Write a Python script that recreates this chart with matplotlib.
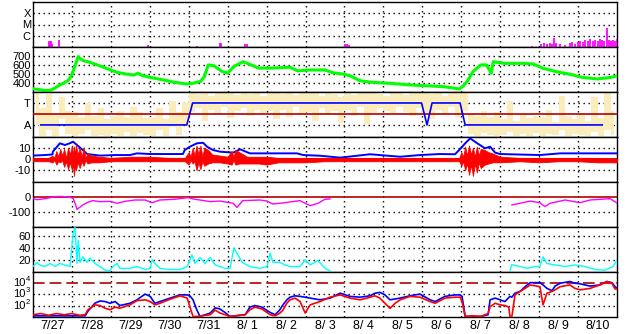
import numpy as np
import matplotlib
matplotlib.use('Agg')
import matplotlib.pyplot as plt
from matplotlib.transforms import blended_transform_factory

plt.rcParams['font.family'] = ['Liberation Sans', 'DejaVu Sans']

# time axis: days since 7/27 00:00
day_labels = ['7/27', '7/28', '7/29', '7/30', '7/31', '8/ 1', '8/ 2', '8/ 3',
              '8/ 4', '8/ 5', '8/ 6', '8/ 7', '8/ 8', '8/ 9', '8/10']

# X-ray flares (time, peak flux W/m2)
xray_t = [0.41, 0.44, 0.46, 0.49, 0.67, 2.95, 4.21, 4.80, 4.83, 5.45, 5.50, 8.01, 8.06, 8.12,
          12.82, 13.05, 13.13, 13.20, 13.28, 13.33, 13.38, 13.43, 13.54, 13.66, 13.79, 13.85,
          13.92, 14.00, 14.05, 14.13, 14.18, 14.26, 14.31, 14.38, 14.44, 14.51, 14.56, 14.62,
          14.67, 14.74, 14.80, 14.85, 14.90, 14.95, 14.99]
xray_f = [3.4e-7, 2.8e-7, 3.4e-7, 1.9e-7, 4.2e-7, 1.5e-7, 1.35e-7, 2.3e-7, 2.5e-7, 1.7e-7, 1.9e-7,
          1.9e-7, 1.7e-7, 1.5e-7,
          1.2e-7, 1.9e-7, 2.3e-7, 1.9e-7, 2.3e-7, 1.9e-7, 6.3e-7, 2.3e-7, 1.9e-7, 1.5e-7, 2.3e-7,
          2.8e-7, 1.9e-7, 2.8e-7, 3.4e-7, 2.8e-7, 4.2e-7, 3.4e-7, 5.1e-7, 3.4e-7, 4.2e-7, 3.4e-7,
          5.1e-7, 4.2e-7, 3.4e-7, 4.9e-6, 4.2e-7, 3.4e-7, 4.2e-7, 3.4e-7, 5.1e-7]

# solar wind speed km/s
vsw_t = [0.00, 0.15, 0.30, 0.45, 0.55, 0.70, 0.80, 0.90, 0.97, 1.02, 1.07, 1.12, 1.16, 1.22, 1.30,
         1.45, 1.65, 1.90, 2.15, 2.40, 2.60, 2.70, 2.80, 3.00, 3.30, 3.65, 3.95, 4.10, 4.30, 4.40,
         4.50, 4.65, 4.85, 5.00, 5.15, 5.40, 5.60, 5.80, 6.10, 6.60, 6.80, 7.10, 7.50, 7.70, 8.00,
         8.15, 8.40, 8.70, 9.15, 9.70, 10.20, 10.55, 10.85, 10.95, 11.05, 11.15, 11.30, 11.50,
         11.65, 11.77, 11.82, 12.10, 12.60, 12.85, 13.10, 13.45, 13.80, 14.10, 14.50, 14.85, 15.00]
vsw_v = [340, 332, 322, 325, 345, 385, 405, 430, 470, 520, 580, 640, 690, 665, 645,
         630, 600, 560, 520, 500, 490, 510, 485, 465, 440, 410, 392, 400, 420, 470,
         600, 590, 530, 510, 580, 635, 600, 565, 565, 575, 535, 545, 545, 515, 498,
         480, 428, 411, 400, 382, 371, 363, 345, 338, 371, 418, 526, 600,
         600, 509, 635, 617, 617, 610, 563, 526, 498, 465, 447, 465, 480]

# IMF sector (T = +1, A = -1)
sec_t = [0.20, 3.95, 4.10, 9.98, 10.12, 10.25, 10.97, 11.10, 14.62]
sec_v = [-1, -1, 1, 1, -1, 1, 1, -1, -1]
# IMF angle spread, 4-hourly bins (sector units), upper and lower edge
ang_hi = [2.0, 0.5, 1.8, 0.0, 1.5, 0.3,
          0.2, -0.3, 1.0, -0.2, 0.5, -0.5,
          -0.2, 0.3, -0.3, 0.6, 0.2, -0.4,
          -0.3, 0.5, -0.5, 1.2, 0.2, 1.0,
          2.0, 1.8, 2.0, 1.6, 2.0, 1.9,
          2.0, 1.7, 2.0, 1.8, 2.0, 1.6,
          2.0, 1.9, 1.8, 2.0, 1.7, 2.0,
          1.9, 2.0, 1.6, 2.0, 1.8, 1.5,
          2.0, 1.7, 2.0, 1.9, 2.0, 1.8,
          1.6, 2.0, 1.9, 1.7, 2.0, 1.9,
          2.0, 1.8, 2.0, 1.6, 1.9, 2.0,
          2.0, 0.0, -0.2, 0.3, -0.3, 0.2,
          -0.5, 1.2, -0.6, 0.0, -0.4, -0.2,
          -0.3, 0.4, -0.7, 1.6, -0.2, -0.5,
          0.0, -0.6, 1.5, -0.4, 2.0, 0.3]
ang_lo = [-1.0, -2.0, -1.5, -2.0, -0.5, -1.8,
          -2.0, -1.8, -1.5, -2.0, -1.9, -2.0,
          -1.8, -2.0, -1.6, -2.0, -1.7, -1.9,
          -2.0, -1.5, -2.0, -1.2, -1.9, -1.0,
          0.2, 0.5, -0.6, 0.4, 0.0, 0.6,
          -0.4, 0.3, 0.5, -0.2, 0.4, 0.1,
          0.3, -0.5, 0.4, -0.3, 0.6, 0.0,
          0.2, -0.6, 0.5, -0.1, 0.3, -0.8,
          0.4, -0.2, 0.6, -0.9, 0.1, 0.5,
          0.3, 0.0, 0.6, 0.2, -0.2, 0.5,
          0.1, -0.5, 0.4, 0.0, 0.6, -0.3,
          0.3, -1.8, -2.0, -1.7, -1.9, -2.0,
          -1.9, -1.6, -2.0, -1.8, -2.0, -1.7,
          -2.0, -1.8, -1.9, -1.5, -2.0, -1.8,
          -1.9, -2.0, -1.6, -2.0, -1.5, -1.9]

# IMF Bt (nT)
bt_t = [0, 0.3, 0.5, 0.51, 0.69, 0.82, 0.95, 1.03, 1.13, 1.28, 1.39, 1.72, 2.11, 2.49, 2.67, 3.01,
        3.5, 3.85, 3.90, 4.03, 4.21, 4.37, 4.47, 4.62, 4.80, 5.14, 5.32, 5.57, 6.09, 6.78, 6.94,
        7.37, 7.89, 8.66, 9.43, 9.94, 10.45, 10.84, 10.99, 11.10, 11.23, 11.35, 11.48, 11.61,
        11.74, 11.87, 12.0, 13.02, 13.54, 14.56, 15]
bt_v = [3, 3.5, 4, 6.5, 13.9, 12.4, 14, 15.3, 12.4, 8, 4.4, 3, 3.5, 3.5, 5, 4.4,
        4.4, 4.4, 8, 10.9, 13.9, 14.4, 10.9, 8, 6.5, 5.6, 8.6, 5, 5, 5, 3.5,
        2.9, 1.2, 4.2, 2, 3.5, 4.4, 4.2, 9.5, 13.9, 18.3, 15.3, 12.4, 9.5,
        10.9, 5.6, 4.4, 3.5, 5, 5, 5]
# IMF Bz spread (nT): time, upper and lower edge
bz_t = [0.0, 0.4, 0.5, 0.55, 0.6, 0.65, 0.7, 0.75, 0.8, 0.85, 0.9, 0.95, 1.0, 1.03, 1.05, 1.08,
        1.1, 1.15, 1.2, 1.25, 1.3, 1.35, 1.4, 1.5, 1.7, 2.0, 2.5,
        3.0, 3.5, 3.9, 4.0, 4.05, 4.1, 4.15, 4.2, 4.25, 4.3, 4.35, 4.4, 4.5, 4.6, 4.8, 5.0, 5.1,
        5.15, 5.2, 5.3, 5.5, 5.8, 6.0,
        6.3, 6.6, 7.0, 7.5, 8.0, 8.5, 9.0, 9.5, 10.0, 10.5, 10.95, 11.0, 11.05, 11.1, 11.15,
        11.2, 11.25, 11.3, 11.35, 11.4, 11.45,
        11.5, 11.6, 11.7, 11.8, 12.0, 12.5, 13.0, 13.5, 14.0, 14.5, 15.0]
bz_hi = [1, 1, 3, 1, 7, 2, 9, 3, 9, 1, 10, 4, 12, 2, 11, 3,
         13, 4, 10, 2, 10, 1, 5, 3, 2, 1, 2,
         2, 1, 1, 6, 2, 10, 3, 12, 4, 12, 2, 10, 8, 4, 3, 2, 7,
         2, 8, 6, 2, 2, 2,
         1, 1, 1, 1, 1, 1, 1, 1, 1, 1, 1, 6, 2, 11, 3,
         12, 4, 10, 2, 11, 3,
         9, 8, 6, 5, 2, 1, 1, 1, 1, 1, 0]
bz_lo = [-2, -2, -3, -1, -5, -2, -3, -1, -7, -2, -9, -3, -10, -4, -15, -5,
         -10, -3, -8, -2, -6, -1, -4, -3, -3, -2, -2,
         -2, -2, -2, -5, -1, -4, -2, -10, -3, -9, -2, -6, -4, -3, -3, -4, -5,
         -1, -5, -4, -4, -4, -5,
         -3, -3, -3, -2, -2, -2, -2, -2, -2, -2, -2, -6, -2, -10, -4,
         -14, -5, -15, -4, -12, -3,
         -8, -5, -4, -3, -3, -2, -3, -2, -2, -3, -3]

# Dst index (nT)
dst_t = [0, 0.10, 0.31, 0.57, 0.69, 0.82, 0.95, 1.03, 1.08, 1.13, 1.21, 1.28, 1.41, 1.54, 1.72,
         1.98, 2.16, 2.36, 2.62, 2.88, 3.06, 3.26, 3.65, 3.98, 4.11, 4.29, 4.55, 4.80, 5.14, 5.24,
         5.39, 5.83, 6.01, 6.16, 6.47, 6.86, 6.99, 7.12, 7.32, 7.50, 7.63, 7.64, 12.29, 12.30,
         12.51, 12.77, 13.02, 13.15, 13.28, 13.67, 14.05, 14.31, 14.82, 15.0]
dst_v = [-9, -18, -11, 2, 4, 2, -2, -9, -42, -82, -67, -53, -35, -24, -31,
         -29, -42, -29, -20, -20, -38, -20, -15, -4, -13, -20, -31, -27, -42, -69,
         -24, -20, -27, -47, -38, -24, -42, -58, -42, -15, -13, np.nan, np.nan, -53,
         -42, -27, -38, -64, -42, -20, -38, -20, -11, -40]

# solar wind density (p/cc)
den_t = [0, 0.10, 0.18, 0.31, 0.44, 0.57, 0.69, 0.82, 0.95, 1.03, 1.08, 1.13, 1.16, 1.21, 1.28,
         1.39, 1.46, 1.59, 1.72, 1.85, 1.98, 2.05, 2.16, 2.23, 2.49, 2.67, 2.88, 3.01, 3.06, 3.13,
         3.26, 3.5, 3.78, 3.96, 4.08, 4.16, 4.29, 4.42, 4.55, 4.68, 4.80, 4.93, 5.06, 5.16, 5.24,
         5.37, 5.57, 5.83, 6.01, 6.09, 6.16, 6.34, 6.47, 6.60, 6.86, 6.99, 7.12, 7.32, 7.50, 7.63,
         7.64, 12.24, 12.25, 12.30, 12.51, 12.69, 12.89, 13.02, 13.10, 13.20, 13.41, 13.67, 13.92,
         14.18, 14.44, 14.69, 14.90, 15.0]
den_v = [9, 15.5, 11.5, 9, 14, 9, 14, 11.5, 9, 63, 74, 14, 52, 16, 25,
         16, 23, 14, 9, 3, 2.5, 9, 14, 6, 6, 9, 4, 6, 20, 14,
         6, 4, 4, 9, 28, 14, 24, 14, 24, 11.5, 9, 6, 6, 39, 31,
         16, 9, 6, 9, 31, 16, 16, 11.5, 9, 9, 20, 11.5, 19, 6, 2,
         np.nan, np.nan, 2, 12, 9, 6, 9, 9, 25, 14, 11.5, 9, 11.5,
         9, 4, 3, 9, 20]

# energetic particle flux, log10 values (red / blue)
pr_t = [0, 0.2, 0.4, 0.6, 0.8, 1.0, 1.2, 1.34, 1.41, 1.59, 1.72, 1.85, 1.98, 2.11, 2.23, 2.49,
        2.67, 2.88, 3.01, 3.13, 3.26, 3.52, 3.78, 3.96, 4.03, 4.11, 4.21, 4.55, 4.68, 4.80, 4.93,
        5.06, 5.45, 5.57, 5.70, 5.88, 6.09, 6.22, 6.34, 6.42, 6.52, 6.60, 6.73, 6.86, 6.99, 7.12,
        7.37, 7.63, 7.89, 8.14, 8.40, 8.66, 8.78, 8.91, 9.04, 9.17, 9.30, 9.43, 9.68, 9.94,
        10.20, 10.33, 10.58, 10.84, 10.97, 11.02, 11.10, 11.3, 11.5, 11.69, 11.74, 11.87, 12.00,
        12.12, 12.22, 12.25, 12.30, 12.38, 12.51, 12.64, 12.77, 13.02, 13.10, 13.20, 13.33,
        13.41, 13.54, 13.79, 13.92, 14.05, 14.31, 14.56, 14.74, 14.87, 14.95, 15.0]
pr_v = [1.2, 1.3, 1.15, 1.3, 1.2, 1.3, 1.15, 1.2, 1.63, 2.06, 2.0, 1.77, 1.63, 1.86, 1.77, 2.06,
        2.43, 2.5, 2.35, 2.06, 2.2, 2.55, 2.85, 2.65, 1.9, 1.04, 1.05, 1.2, 1.6, 1.35, 1.2,
        1.05, 1.2, 1.63, 1.86, 1.7, 1.2, 1.1, 1.34, 1.6, 2.2, 2.5, 2.65, 2.35, 1.35, 2.06,
        2.35, 2.73, 2.93, 2.65, 2.5, 2.73, 2.85, 2.65, 2.2, 1.75, 2.2, 2.5, 2.8, 2.73,
        2.35, 2.2, 2.65, 2.73, 2.73, 2.35, 1.05, 1.1, 1.05, 1.3, 1.9, 2.2, 2.06,
        2.0, 1.86, 1.05, 1.05, 2.93, 3.23, 3.5, 3.8, 3.65, 2.06, 3.08, 3.23,
        3.37, 3.65, 3.8, 3.5, 3.37, 3.5, 3.8, 4.1, 3.95, 3.45, 3.45]
pb_t = [0, 1.34, 1.41, 1.59, 1.72, 1.85, 1.98, 2.11, 2.23, 2.49, 2.67, 2.88, 3.01, 3.13, 3.26,
        3.52, 3.78, 3.96, 4.03, 4.11, 4.21, 4.29, 4.55, 4.68, 4.80, 4.93, 5.06, 5.45, 5.57, 5.70,
        5.88, 6.09, 6.22, 6.34, 6.42, 6.52, 6.60, 6.73, 6.86, 7.12, 7.37, 7.63, 7.89, 8.14, 8.40,
        8.66, 8.78, 8.91, 9.04, 9.17, 9.43, 9.68, 9.94, 10.20, 10.33, 10.58, 10.84, 10.97, 11.02,
        11.10, 11.5, 11.69, 11.74, 11.87, 12.00, 12.12, 12.25, 12.30, 12.38, 12.51, 12.64, 12.77,
        13.02, 13.10, 13.20, 13.33, 13.41, 13.54, 13.79, 13.92, 14.05, 14.31, 14.56, 14.74,
        14.87, 14.95, 15.0]
pb_v = [1.1, 1.1, 1.5, 2.2, 2.4, 2.35, 2.2, 2.35, 2.0, 2.2, 2.5, 3.0, 2.8, 2.2, 2.35,
        2.65, 2.93, 2.93, 2.85, 2.5, 1.6, 1.05, 1.34, 1.8, 1.7, 1.4, 1.05, 1.2, 1.86, 2.0,
        1.86, 1.4, 1.2, 1.63, 2.06, 2.5, 2.73, 2.85, 2.8, 2.65, 2.5, 2.65, 3.08, 2.8, 2.73,
        2.85, 3.08, 3.15, 2.93, 2.5, 2.65, 2.85, 3.0, 2.5, 2.35, 2.8, 2.93, 2.93, 2.8,
        1.05, 1.05, 1.2, 2.5, 2.65, 2.5, 2.35, 2.8, 2.73, 3.08, 3.23, 3.65, 4.0,
        4.0, 3.8, 3.5, 3.3, 3.7, 3.95, 4.1, 3.95, 3.9, 3.7, 3.8, 4.1,
        4.0, 3.65, 3.5]

W, H = 628, 334
fig = plt.figure(figsize=(W / 100, H / 100), dpi=100)
tops = [2, 47, 92, 137, 182, 227, 272]
ph = 45
axes = []
for top in tops:
    ax = fig.add_axes([33 / W, 1 - (top + ph) / H, 584 / W, ph / H])
    axes.append(ax)

DARKRED = '#b40000'
dot = (0, (1, 2.6))


def style(ax, ticks, labels, grid_levels):
    ax.set_xlim(0, 15)
    ax.set_yticks(ticks)
    ax.set_yticklabels(labels)
    ax.set_xticks(range(1, 15))
    ax.set_xticklabels([])
    ax.tick_params(length=0, labelsize=8, pad=1.5)
    for s in ax.spines.values():
        s.set_color('black')
        s.set_linewidth(1.0)
    for d in range(1, 15):
        ax.axvline(d, color='black', lw=1.0, ls=dot, zorder=1)
    for g in grid_levels:
        ax.axhline(g, color='black', lw=1.0, ls=dot, zorder=1)
    ax.yaxis.set_minor_locator(matplotlib.ticker.NullLocator())


# 1. X-ray
ax = axes[0]
ax.set_yscale('log')
ax.set_ylim(1e-7, 1e-3)
ax.vlines(xray_t, 1e-7, xray_f, color='#ff00ff', lw=1.3, zorder=3)
style(ax, [1e-6, 1e-5, 1e-4], ['C', 'M', 'X'], [1e-6, 1e-5, 1e-4])

# 2. solar wind speed
ax = axes[1]
ax.set_ylim(305, 795)
ax.plot(vsw_t, vsw_v, color='#00ff00', lw=2.2, zorder=3)
style(ax, [400, 500, 600, 700], ['400', '500', '600', '700'], [400, 500, 600, 700])

# 3. sector
ax = axes[2]
ax.set_ylim(-2.1, 2.0)
ang_t = np.arange(len(ang_hi)) / 6.0 + 1 / 12.0
ax.fill_between(ang_t, ang_lo, ang_hi, step='mid', color='#faedbb', lw=0, zorder=2)
ax.axhline(0, color=DARKRED, lw=1.2, zorder=3)
ax.plot(sec_t, sec_v, color='#0000ff', lw=1.2, zorder=4)
style(ax, [1, -1], ['T', 'A'], [1, -1])

# 4. IMF
ax = axes[3]
ax.set_ylim(-20.4, 19.5)
ax.axhline(0, color=DARKRED, lw=1.2, zorder=2)
ax.plot(bt_t, bt_v, color='#0000ff', lw=1.4, zorder=3)
ax.fill_between(bz_t, bz_lo, bz_hi, color='#ff0000', lw=0.6, zorder=4)
style(ax, [10, 0, -10], ['10', '0', '-10'], [10, -10])

# 5. Dst
ax = axes[4]
ax.set_ylim(-200, 100)
ax.axhline(0, color=DARKRED, lw=1.2, zorder=2)
ax.plot(dst_t, dst_v, color='#ff00ff', lw=1.0, zorder=3)
style(ax, [0, -100], ['0', '-100'], [-100])

# 6. density
ax = axes[5]
ax.set_ylim(0, 74)
ax.plot(den_t, den_v, color='#00ffff', lw=1.0, zorder=3)
style(ax, [20, 40, 60], ['20', '40', '60'], [20, 40, 60])

# 7. particle flux
ax = axes[6]
ax.set_yscale('log')
ax.set_ylim(10 ** 1.0, 10 ** 4.93)
ax.axhline(1e4, color=DARKRED, lw=1.2, ls=(0, (7, 3)), zorder=2)
ax.plot(pb_t, 10 ** np.array(pb_v), color='#0000ff', lw=1.2, zorder=3)
ax.plot(pr_t, 10 ** np.array(pr_v), color='#ff0000', lw=1.2, zorder=4)
style(ax, [1e2, 1e3, 1e4], ['', '', ''], [1e2, 1e3])
trans = blended_transform_factory(ax.transAxes, ax.transData)
for p in [2, 3, 4]:
    ax.text(-8 / 584, 10 ** p, '10', transform=trans, ha='right', va='center', fontsize=8)
    ax.annotate(str(p), xy=(-7.5 / 584, 10 ** p), xycoords=trans, xytext=(0, 2.5),
                textcoords='offset points', ha='left', va='center', fontsize=5.5)
ax.set_xticks(np.arange(0.5, 15, 1), minor=True)
ax.set_xticklabels(day_labels, minor=True)
ax.tick_params(axis='x', which='minor', length=0, labelsize=9, pad=2)

fig.savefig('out.png', dpi=100, facecolor='white')
